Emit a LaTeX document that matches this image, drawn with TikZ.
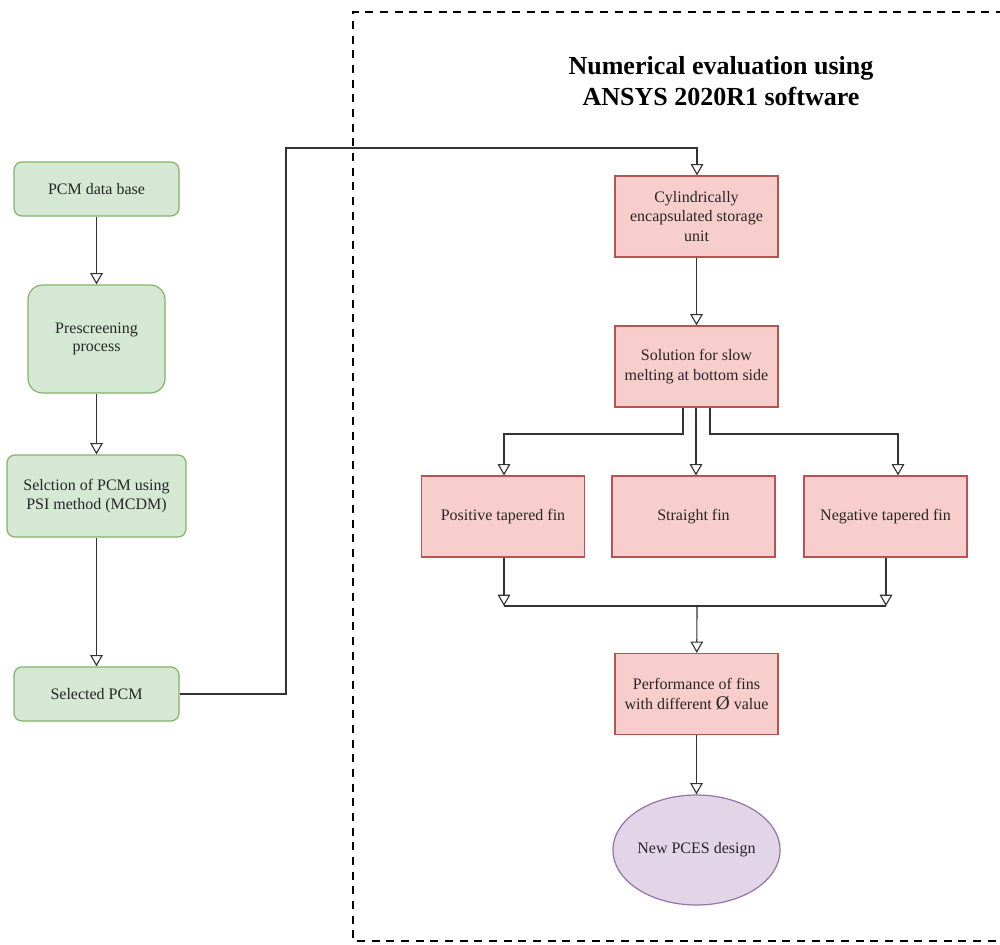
\documentclass[tikz,border=0pt]{standalone}
\usepackage{fontspec}
\setmainfont{Liberation Serif}
\usepackage{tikz}
\usetikzlibrary{shapes.geometric,arrows.meta,positioning,calc}
\definecolor{leaf}{HTML}{D5E8D4}
\definecolor{leafline}{HTML}{82B366}
\definecolor{blush}{HTML}{F8CECC}
\definecolor{blushline}{HTML}{B85450}
\definecolor{lilac}{HTML}{E1D5E7}
\definecolor{lilacline}{HTML}{9673A6}

\begin{document}
\begin{tikzpicture}[
      x=0.75pt, y=-0.75pt,
      gbox/.style={rectangle, rounded corners=6pt, fill=leaf, draw=leafline,
                   line width=0.9pt, minimum width=123.75pt, minimum height=40.5pt,
                   font=\fontsize{12}{14}\selectfont, align=center, text=black!85},
      rbox/.style={rectangle, fill=blush, draw=blushline, line width=0.9pt,
                   minimum width=122.25pt, minimum height=60.75pt,
                   font=\fontsize{12}{14.5}\selectfont, align=center, text=black!85},
      arr/.style={-{Triangle[open, width=9.5pt, length=8.5pt]}, line width=0.85pt, color=black!80},
      lnk/.style={line width=0.85pt, color=black!80}
    ]
      \useasboundingbox (0,0) rectangle (1000,945);
      % dashed frame of the numerical part
      \draw[line width=1.6pt, dash pattern=on 6pt off 5pt] (1004,12) -- (353,12) -- (353,941) -- (1004,941);
      \node[font=\fontsize{19.5}{23}\selectfont\bfseries, align=center] (title) at (721,81)
        {Numerical evaluation using\\ANSYS 2020R1 software};

      % selection of the PCM
      \node[gbox] (base) at (96.5,189) {PCM data base};
      \node[gbox, rounded corners=11pt, minimum width=102.75pt, minimum height=81pt] (prescreen) at (96.5,339) {Prescreening\\process};
      \node[gbox, minimum width=134.25pt, minimum height=61.5pt] (psi) at (96.5,496) {Selction of PCM using\\PSI method (MCDM)};
      \node[gbox] (chosen) at (96.5,694) {Selected PCM};

      % numerical evaluation
      \node[rbox] (cyl) at (696.5,216.5) {Cylindrically\\encapsulated storage\\unit};
      \node[rbox] (slow) at (696.5,366.5) {Solution for slow\\melting at bottom side};
      \node[rbox] (posfin) at (503,516.5) {Positive tapered fin};
      \node[rbox] (strfin) at (693.5,516.5) {Straight fin};
      \node[rbox] (negfin) at (885.5,516.5) {Negative tapered fin};
      \node[rbox] (perf) at (696.5,694) {Performance of fins\\with different {\fontsize{14.5}{14}\selectfont Ø} value};
      \node[ellipse, fill=lilac, draw=lilacline, line width=0.9pt, inner sep=0pt, minimum width=122.25pt,
            minimum height=82.5pt, font=\fontsize{12}{14.5}\selectfont, text=black!85] (pces) at (696.5,850) {New PCES design};

      \coordinate (join) at (697,606);

      \draw[arr] (base) -- (prescreen);
      \draw[arr] (prescreen) -- (psi);
      \draw[arr] (psi) -- (chosen);
      \draw[arr] (chosen.east) -| (286,148) -| (cyl.north -| 697,0);
      \draw[arr] (cyl) -- (slow);
      \draw[arr] (slow.south -| 683,0) |- (504,434) -- (posfin.north -| 504,0);
      \draw[arr] (slow.south -| 696,0) -- (strfin.north -| 696,0);
      \draw[arr] (slow.south -| 710,0) |- (898,434) -- (negfin.north -| 898,0);
      \draw[arr] (posfin.south -| 504,0) -- (504,606);
      \draw[arr] (negfin.south -| 886,0) -- (886,606);
      \draw[lnk] (504,606) -- (886,606);
      \draw[arr] (join) -- (perf);
      \draw[arr] (perf) -- (pces);
    \end{tikzpicture}
\end{document}
